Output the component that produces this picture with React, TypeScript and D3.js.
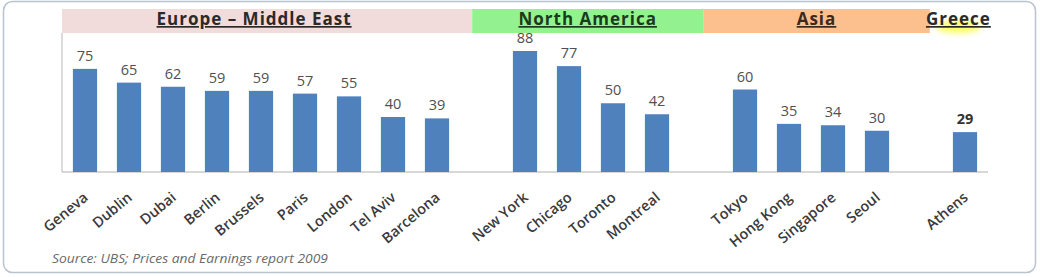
import React from "react";
import * as d3 from "d3";

const categories = ["Geneva","Dublin","Dubai","Berlin","Brussels","Paris","London","Tel Aviv","Barcelona","New York","Chicago","Toronto","Montreal","Tokyo","Hong Kong","Singapore","Seoul","Athens"];
const values = [75,65,62,59,59,57,55,40,39,88,77,50,42,60,35,34,30,29];
const regionNames = ["Europe – Middle East","North America","Asia","Greece"];
const regionSizes = [9,4,4,1];
const regionColors = ["#f2dcdb","#93f28f","#fbc08e","none"];
const regionTextColors = ["#2a2a2a","#1c3a1c","#3a2a1e","#2a2a2a"];
const boldValue = ["Athens"];
const sourceNote = "Source: UBS; Prices and Earnings report 2009";

// layout
const W = 1046, H = 277;
const axisX = 62;
const baseY = 172;
const bandTop = 9, bandBottom = 33;
const gapSplit = [0.3, 0.55, 0.7];
const headerDx = [-13, 0, 0, 0];

export default function App() {
  const slots: string[] = [];
  let k = 0;
  regionSizes.forEach((n, r) => {
    for (let i = 0; i < n; i++) { slots.push(categories[k]); k++; }
    if (r < regionSizes.length - 1) slots.push("gap-" + r);
  });

  const x = d3.scaleBand<string>().domain(slots).range([63, 987]).paddingInner(0.45).paddingOuter(0.225);
  const y = d3.scaleLinear().domain([0, 100]).range([baseY, 34.5]);
  const step = x.step();

  const edges: number[] = [axisX];
  for (let r = 0; r < regionSizes.length - 1; r++) {
    const gs = (x("gap-" + r) as number) - (step - x.bandwidth()) / 2;
    edges.push(gs + step * gapSplit[r]);
  }
  edges.push(x.range()[1]);

  const font = "'Open Sans', 'Liberation Sans', sans-serif";

  return (
    <svg width={W} height={H} style={{ position: "absolute", left: 0, top: 0, background: "#fff" }} fontFamily={font}>
      <defs>
        <filter id="glow" x="-50%" y="-50%" width="200%" height="200%">
          <feGaussianBlur stdDeviation="3" />
        </filter>
      </defs>
      <rect x={3.5} y={1.5} width={1032} height={271} rx={9} fill="#fff" stroke="#b9c4cf" strokeWidth={1.5} />

      <line x1={axisX} x2={axisX} y1={bandBottom} y2={baseY} stroke="#b8b8b8" strokeWidth={1} />
      <line x1={axisX} x2={x.range()[1] + 1} y1={baseY} y2={baseY} stroke="#b0b0b0" strokeWidth={1.2} />

      {categories.map((c, i) => (
        <rect key={c} x={x(c)} y={y(values[i])} width={x.bandwidth()} height={baseY - y(values[i])} fill="#4f81bd" />
      ))}

      {categories.map((c, i) => (
        <text key={c} x={(x(c) as number) + x.bandwidth() / 2} y={y(values[i]) - 8} textAnchor="middle"
          fontSize={14.5} fill={boldValue.includes(c) ? "#333" : "#505050"} fontWeight={boldValue.includes(c) ? 700 : 400}>
          {values[i]}
        </text>
      ))}

      {regionNames.map((name, r) => (
        <g key={name}>
          {regionColors[r] !== "none" ? (
            <rect x={edges[r]} y={bandTop} width={edges[r + 1] - edges[r]} height={bandBottom - bandTop} fill={regionColors[r]} />
          ) : (
            <ellipse cx={(edges[r] + edges[r + 1]) / 2} cy={27} rx={22} ry={6} fill="#fbff4a" filter="url(#glow)" opacity={0.9} />
          )}
          <text x={(edges[r] + edges[r + 1]) / 2 + headerDx[r]} y={25} textAnchor="middle" fontSize={17} fontWeight={700}
            letterSpacing={1} fill={regionTextColors[r]} textDecoration="underline">
            {name}
          </text>
        </g>
      ))}

      {categories.map((c) => {
        const cx = (x(c) as number) + x.bandwidth() / 2 + 4;
        return (
          <text key={c} transform={`translate(${cx},${baseY + 27}) rotate(-40)`} textAnchor="end" fontSize={14.5}
            fontWeight={600} fill="#3a3a3a">
            {c}
          </text>
        );
      })}

      <text x={52} y={263} fontSize={12} fontStyle="italic" fill="#6a6a6a" textLength={276} lengthAdjust="spacingAndGlyphs">{sourceNote}</text>
    </svg>
  );
}
